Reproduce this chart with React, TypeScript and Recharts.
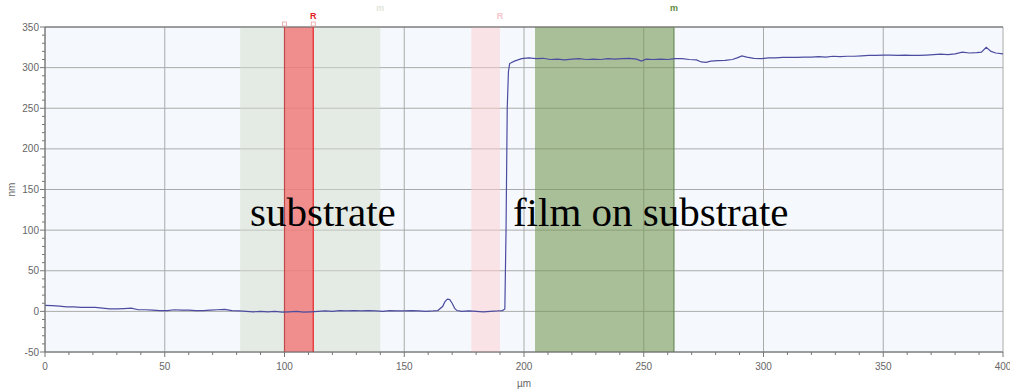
import React from "react";
import {
  ComposedChart,
  Line,
  XAxis,
  YAxis,
  CartesianGrid,
  ReferenceArea,
  ReferenceLine,
  ReferenceDot,
} from "recharts";

// profile scan
const positionsUm = [
  0, 3, 6, 9, 12, 15, 18, 21, 24, 27, 30, 33, 36, 39, 42, 45, 48, 51, 54, 57,
  60, 63, 66, 69, 72, 75, 78, 81, 84, 87, 90, 93, 96, 99, 102, 105, 108, 111, 114, 117,
  120, 123, 126, 129, 132, 135, 138, 141, 144, 147, 150, 153, 156, 159, 162, 164, 166, 167, 168, 169,
  170, 171, 172, 174, 177, 180, 183, 186, 189, 191, 192, 192.5, 193, 193.5, 194, 196, 199, 202, 205, 208,
  211, 214, 217, 220, 223, 226, 229, 232, 235, 238, 241, 244, 247, 249, 251, 254, 257, 260, 263, 266,
  269, 272, 274, 276, 278, 281, 284, 287, 289, 291, 293, 296, 299, 302, 305, 308, 311, 314, 317, 320,
  323, 326, 329, 332, 335, 338, 341, 344, 347, 350, 353, 356, 359, 362, 365, 368, 371, 374, 377, 380,
  383, 386, 389, 391, 393, 395, 397, 400,
];
const heightsNm = [
  7.5, 7, 6.5, 5.5, 5.5, 5, 5, 5, 4, 3, 3, 3.5, 4, 2, 2, 1.5, 1, 1, 2, 1.5,
  1.5, 1, 1, 1.5, 2, 2.5, 1, 0.5, 0, -0.5, 0, -0.5, 0, -1, -0.5, 0, -1, -0.5, 0, 0.5,
  0, 1, 0.5, 1, 0.5, 1, 0.5, 0, 1, 0.5, 0.5, 1, 0.5, 0, 0.5, 1, 6, 12, 15, 14.5,
  10, 4, 1, 0, 0.5, 0, -0.5, 0, 0.5, 1, 3, 100, 250, 295, 305, 308, 311, 312, 311, 311.5,
  310, 310.5, 309.5, 310.5, 311, 310, 310.5, 310, 311, 310.5, 311, 311.5, 310.5, 308, 310.5, 310, 310.5, 310, 311, 311,
  310, 309.5, 307, 306.5, 308, 308.5, 309, 310, 312, 314.5, 313, 311.5, 311, 312, 312, 312.5, 312.5, 312.5, 313, 313,
  313.5, 313, 314, 313.5, 314, 314, 314.5, 315, 315, 315.5, 315.5, 315, 315.5, 315, 315, 315.5, 316, 316.5, 316, 317,
  319, 318, 318.5, 319, 325, 320, 318, 317,
];

const majorTicks = [0, 50, 100, 150, 200, 250, 300, 350, 400];
const majorTicksNm = [-50, 0, 50, 100, 150, 200, 250, 300, 350];
const minorTicksUm = Array.from({ length: 41 }, (_, i) => i * 10);
const minorTicksNm = Array.from({ length: 41 }, (_, i) => -50 + i * 10);

// cursor windows (µm)
const substrateWin = [81.5, 140];
const substrateRef = [100, 112];
const filmRef = [178, 190];
const filmWin = [204.6, 262.6];

const data = positionsUm.map((x, i) => ({ x, nm: heightsNm[i] }));

const TICK_FONT = "'Liberation Sans', Arial, sans-serif";

function XTick({ x, y, payload }: any) {
  const major = payload.value % 50 === 0;
  return (
    <g>
      <line x1={x} x2={x} y1={y} y2={y + (major ? 5 : 3)} stroke="#777" />
      {major && (
        <text x={x} y={y + 18} textAnchor="middle" fontSize={10} fill="#666" fontFamily={TICK_FONT}>
          {payload.value}
        </text>
      )}
    </g>
  );
}

function YTick({ x, y, payload }: any) {
  const major = payload.value % 50 === 0;
  return (
    <g>
      <line x1={x} x2={x - (major ? 5 : 3)} y1={y} y2={y} stroke="#777" />
      {major && (
        <text x={x - 6} y={y + 3.5} textAnchor="end" fontSize={10} fill="#666" fontFamily={TICK_FONT}>
          {payload.value}
        </text>
      )}
    </g>
  );
}

const edgeLabel = (text: string, color: string, lift: number) => (props: any) => {
  const { x, y } = props.viewBox;
  return (
    <text x={x} y={y - lift} textAnchor="middle" fontSize={9} fontWeight="bold" fill={color} fontFamily={TICK_FONT}>
      {text}
    </text>
  );
};

const handle = (props: any) => {
  const { x, y } = props.viewBox;
  return <rect x={x - 2} y={y - 5} width={4} height={4} fill="#fff" stroke="#e8a0a0" strokeWidth={0.8} />;
};

const bigText = (text: string) => (p: any) => (
  <text x={p.cx} y={p.cy} fontSize={41} fill="#000" fontFamily="'Liberation Serif', 'Times New Roman', serif">
    {text}
  </text>
);

export default function App() {
  return (
    <div style={{ position: "absolute", left: 0, top: 0, background: "#fff" }}>
      <ComposedChart width={1010} height={390} data={data} margin={{ top: 27, right: 7, bottom: 0, left: 0 }}>
        <CartesianGrid
          fill="#f5f9fd"
          stroke="#aaa"
          horizontalValues={majorTicksNm}
          verticalValues={majorTicks}
        />
        <XAxis
          type="number"
          dataKey="x"
          domain={[0, 400]}
          ticks={minorTicksUm}
          interval={0}
          tick={<XTick />}
          tickLine={false}
          tickSize={0}
          tickMargin={0}
          axisLine={{ stroke: "#666" }}
          height={38}
          label={{ value: "µm", position: "insideBottom", offset: 3, fill: "#666", fontSize: 10, fontFamily: TICK_FONT }}
        />
        <YAxis
          type="number"
          domain={[-50, 350]}
          ticks={minorTicksNm}
          interval={0}
          tick={<YTick />}
          tickLine={false}
          tickSize={0}
          tickMargin={0}
          axisLine={{ stroke: "#666" }}
          width={45}
          allowDataOverflow
          label={{
            content: (p: any) => {
              const cy = p.viewBox.y + p.viewBox.height / 2;
              return (
                <text x={15} y={cy} transform={`rotate(-90 15 ${cy})`} textAnchor="middle" fontSize={10} fill="#666" fontFamily={TICK_FONT}>
                  nm
                </text>
              );
            },
          }}
        />
        <ReferenceArea x1={substrateWin[0]} x2={substrateWin[1]} fill="#d3ddcb" fillOpacity={0.5} stroke="none" />
        <ReferenceArea x1={substrateRef[0]} x2={substrateRef[1]} fill="#f5666a" fillOpacity={0.7} stroke="none" />
        <ReferenceArea x1={filmRef[0]} x2={filmRef[1]} fill="#ffcdcf" fillOpacity={0.5} stroke="none" />
        <ReferenceArea x1={filmWin[0]} x2={filmWin[1]} fill="#769855" fillOpacity={0.6} stroke="none" />
        <ReferenceLine y={350} stroke="#666" />
        <ReferenceLine x={substrateRef[0]} stroke="#c04a4a" strokeWidth={1.2} label={handle} />
        <ReferenceLine x={substrateRef[1]} stroke="#e8262a" strokeWidth={1.2} label={edgeLabel("R", "#e01e1e", 8)} />
        <ReferenceLine x={substrateRef[1] + 0.01} stroke="none" label={handle} />
        <ReferenceLine x={substrateWin[1]} stroke="none" label={edgeLabel("m", "#dfe6da", 16)} />
        <ReferenceLine x={filmRef[1]} stroke="none" label={edgeLabel("R", "#f7c6cc", 8)} />
        <ReferenceLine x={filmWin[1]} stroke="#6a8c58" strokeWidth={1.2} label={edgeLabel("m", "#5f8a3c", 16)} />
        <Line
          dataKey="nm"
          type="linear"
          stroke="#4c4ca0"
          strokeWidth={1.2}
          dot={false}
          isAnimationActive={false}
        />
        <ReferenceDot x={85.6} y={105} r={0} shape={bigText("substrate")} />
        <ReferenceDot x={195.4} y={105} r={0} shape={bigText("film on substrate")} />
      </ComposedChart>
    </div>
  );
}
